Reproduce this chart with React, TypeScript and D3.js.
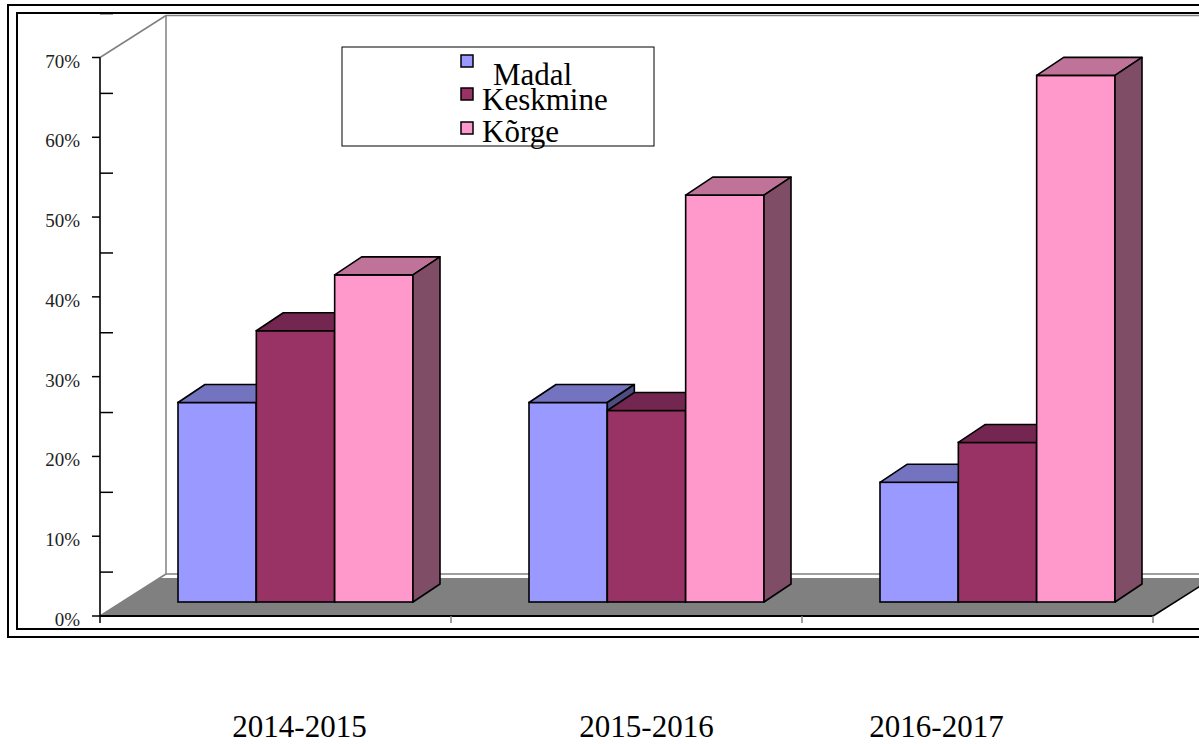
import React from "react";
import * as d3 from "d3";

const categories = ["2014-2015", "2015-2016", "2016-2017"];
const seriesNames = ["Madal", "Keskmine", "Kõrge"];
const madal = [25, 25, 15];
const keskmine = [34, 24, 20];
const korge = [41, 51, 66];
const seriesValues = [madal, keskmine, korge];
const yTicks = [0, 10, 20, 30, 40, 50, 60, 70];
const yMinorTicks = [5, 15, 25, 35, 45, 55, 65, 75];
const labelOffsets = [24, 20, -41];

const frontColors = ["#9999FF", "#993366", "#FF99CC"];
const topColors = ["#7373BF", "#732650", "#BF7399"];
const sideColors = ["#4D4D80", "#4D1A33", "#804D66"];

const W = 1199;
const H = 744;
const serif = "'Liberation Serif', 'Times New Roman', serif";

export default function App() {
  const x0 = d3.scaleBand<string>().domain(categories).range([100, 1153]).paddingInner(0).paddingOuter(0);
  const bw = x0.bandwidth();
  const groupW = 235;
  const x1 = d3.scaleBand<string>().domain(seriesNames).range([(bw - groupW) / 2, (bw + groupW) / 2]).padding(0);
  const y = d3.scaleLinear().domain([0, 70]).range([616, 57.5]);

  const front = { dx: 20, dy: -14 };
  const depth = { dx: 27, dy: -18 };
  const wall = { dx: 66, dy: -42 };
  const floorD = { dx: 60, dy: -38 };

  const x0Start = 100;
  const x0End = 1153;
  const y0 = y(0);
  const yTop = y(70);

  const bars: JSX.Element[] = [];
  categories.forEach((c, ci) => {
    seriesNames.forEach((s, si) => {
      const v = seriesValues[si][ci];
      const xl = (x0(c) as number) + (x1(s) as number) + front.dx;
      const w = x1.bandwidth();
      const yt = y(v) + front.dy;
      const yb = y(0) + front.dy;
      const pts = (arr: number[][]) => arr.map((p) => p.join(",")).join(" ");
      bars.push(
        <g key={c + s}>
          <rect x={xl} y={yt} width={w} height={yb - yt} fill={frontColors[si]} stroke="#000" strokeWidth={1.6} />
          <polygon
            points={pts([[xl, yt], [xl + w, yt], [xl + w + depth.dx, yt + depth.dy], [xl + depth.dx, yt + depth.dy]])}
            fill={topColors[si]} stroke="#000" strokeWidth={1.6} strokeLinejoin="round" />
          <polygon
            points={pts([[xl + w, yt], [xl + w + depth.dx, yt + depth.dy], [xl + w + depth.dx, yb + depth.dy], [xl + w, yb]])}
            fill={sideColors[si]} stroke="#000" strokeWidth={1.6} strokeLinejoin="round" />
        </g>
      );
    });
  });

  const floorPts = [
    [x0Start, y0],
    [x0Start + floorD.dx, y0 + floorD.dy],
    [x0End + floorD.dx, y0 + floorD.dy],
    [x0End, y0],
  ].map((p) => p.join(",")).join(" ");

  const legendX = 342;
  const legendY = 47;
  const legendSq = [
    { y: 55, tx: 493, ty: 85 },
    { y: 88, tx: 482, ty: 110 },
    { y: 122, tx: 482, ty: 142 },
  ];

  return (
    <svg width={W} height={H} style={{ position: "absolute", left: 0, top: 0, background: "#fff" }}>
      <rect x={0} y={0} width={W} height={H} fill="#fff" />
      {/* frame */}
      <rect x={8} y={5} width={1230} height={632} fill="none" stroke="#000" strokeWidth={2} />
      <rect x={17} y={13} width={1220} height={616} fill="none" stroke="#000" strokeWidth={2} />

      {/* back wall & side wall lines */}
      <line x1={x0Start} y1={y0} x2={x0Start + wall.dx} y2={y0 + wall.dy} stroke="#808080" strokeWidth={1.5} />
      <line x1={x0Start} y1={yTop} x2={x0Start + wall.dx} y2={yTop + wall.dy} stroke="#808080" strokeWidth={1.5} />
      <line x1={x0Start + wall.dx} y1={yTop + wall.dy} x2={x0Start + wall.dx} y2={y0 + wall.dy} stroke="#808080" strokeWidth={1.5} />
      <line x1={x0Start + wall.dx} y1={yTop + wall.dy} x2={W + 20} y2={yTop + wall.dy} stroke="#808080" strokeWidth={1.5} />
      <line x1={x0Start + wall.dx} y1={y0 + wall.dy} x2={W + 20} y2={y0 + wall.dy} stroke="#808080" strokeWidth={1.5} />

      {/* floor */}
      <polygon points={floorPts} fill="#808080" />
      <line x1={x0End} y1={y0} x2={x0End + floorD.dx} y2={y0 + floorD.dy} stroke="#000" strokeWidth={1.6} />
      <line x1={x0Start} y1={y0} x2={x0End} y2={y0} stroke="#000" strokeWidth={2} />

      {/* category ticks */}
      {[x0Start, ...categories.map((c) => (x0(c) as number) + bw)].map((xv, i) => (
        <line key={"ct" + i} x1={xv} y1={y0} x2={xv} y2={y0 + 7} stroke={i === 0 ? "#000" : "#808080"} strokeWidth={1.5} />
      ))}

      {/* y axis */}
      <line x1={x0Start} y1={yTop} x2={x0Start} y2={y0} stroke="#000" strokeWidth={1.6} />
      {yTicks.map((t) => (
        <g key={"yt" + t}>
          <line x1={x0Start - 8} y1={y(t)} x2={x0Start} y2={y(t)} stroke="#000" strokeWidth={1.5} />
          <text x={80} y={y(t) + 3.5} textAnchor="end" dominantBaseline="central" fontFamily={serif} fontSize={19} fill="#222">
            {t}%
          </text>
        </g>
      ))}
      {yMinorTicks.map((t) => (
        <line key={"ym" + t} x1={x0Start} y1={y(t) - 4} x2={x0Start + 13} y2={y(t) - 4} stroke="#000" strokeWidth={1.5} />
      ))}

      {/* bars */}
      {bars}

      {/* legend */}
      <rect x={legendX} y={legendY} width={312} height={99} fill="#fff" stroke="#000" strokeWidth={1} />
      {seriesNames.map((s, i) => (
        <g key={"lg" + s}>
          <rect x={461} y={legendSq[i].y} width={12} height={12} fill={frontColors[i]} stroke="#000" strokeWidth={1.5} />
          <text x={legendSq[i].tx} y={legendSq[i].ty} fontFamily={serif} fontSize={31} fill="#000">
            {s}
          </text>
        </g>
      ))}

      {/* category labels */}
      {categories.map((c, i) => (
        <text key={"cl" + c} x={(x0(c) as number) + bw / 2 + labelOffsets[i]} y={737} textAnchor="middle" fontFamily={serif} fontSize={31} fill="#000">
          {c}
        </text>
      ))}
    </svg>
  );
}
